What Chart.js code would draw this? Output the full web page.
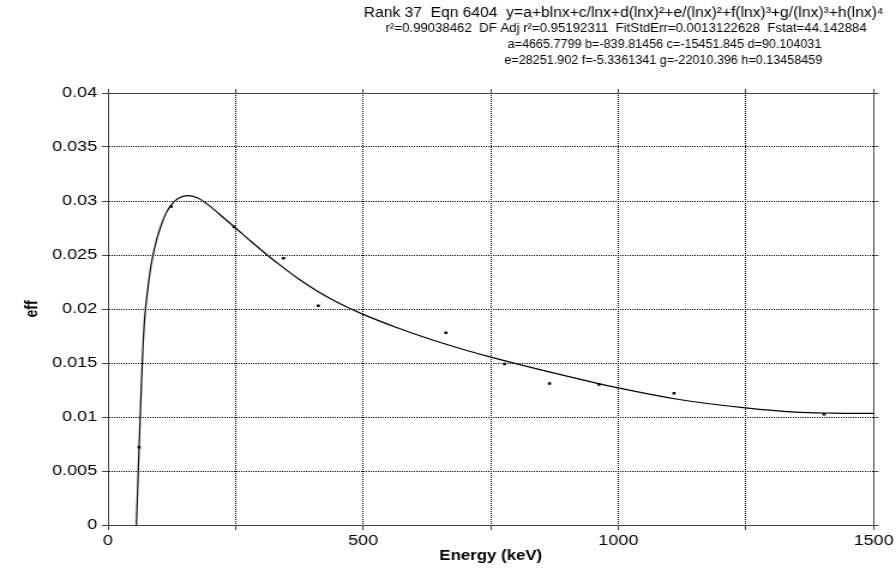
<!DOCTYPE html>
<html>
<head>
<meta charset="utf-8">
<script src="https://cdn.jsdelivr.net/npm/chart.js@4.4.1/dist/chart.umd.min.js"></script>
<style>
  html, body { margin: 0; padding: 0; background: #fff; overflow: hidden; }
  /* the reference picture is stretched sideways, so the chart is too */
  #wrap { width: 747px; height: 577px; transform: scaleX(1.19946); transform-origin: 0 0; }
</style>
</head>
<body>
<div id="wrap"><canvas id="chart"></canvas></div>
<script>
// fitted curve
const fitEnergy = [55.7, 58, 61, 63.6, 66.1, 68.7, 72, 78.4, 85, 94.7, 104.5, 114, 127, 140, 156,
  175, 192, 218, 250, 280, 309, 341, 373, 412, 451, 500, 568, 633, 698, 750, 860, 1000, 1119, 1249, 1346, 1420, 1500];
const fitEff = [0, 0.0031, 0.0072, 0.0106, 0.0137, 0.0166, 0.0192, 0.0220, 0.0242, 0.0263, 0.0278, 0.0289, 0.0298, 0.0303, 0.0305,
  0.0303, 0.0298, 0.0288, 0.0275, 0.02627, 0.02512, 0.02392, 0.0228, 0.02159, 0.02058, 0.0195, 0.01824, 0.01717, 0.01623, 0.01555,
  0.01423, 0.01269, 0.01162, 0.01084, 0.01045, 0.01036, 0.01033];

// measured points
const measEnergy = [61, 124, 247, 344, 412, 662, 777, 865, 962, 1109, 1403];
const measEff = [0.0072, 0.0295, 0.0276, 0.0247, 0.0203, 0.0178, 0.0149, 0.0131, 0.0130, 0.0122, 0.01025];

// ticks
const xTicks = [0, 250, 500, 750, 1000, 1250, 1500];
const xLabels = ['0', '', '500', '', '1000', '', '1500'];
const yTicks = [0, 0.005, 0.01, 0.015, 0.02, 0.025, 0.03, 0.035, 0.04];
const yLabels = ['0', '0.005', '0.01', '0.015', '0.02', '0.025', '0.03', '0.035', '0.04'];

const titleLines = [
  'Rank 37  Eqn 6404  y=a+blnx+c/lnx+d(lnx)\u00b2+e/(lnx)\u00b2+f(lnx)\u00b3+g/(lnx)\u00b3+h(lnx)\u2074',
  'r\u00b2=0.99038462  DF Adj r\u00b2=0.95192311  FitStdErr=0.0013122628  Fstat=44.142884',
  'a=4665.7799 b=-839.81456 c=-15451.845 d=90.104031',
  'e=28251.902 f=-5.3361341 g=-22010.396 h=0.13458459'
];

const FONT = '"Liberation Sans", Arial, sans-serif';

// one header line, squeezed sideways a little
function headerLine(ctx, text, size, squeeze, cx, cy) {
  ctx.save();
  ctx.translate(cx, cy);
  ctx.scale(squeeze, 1);
  ctx.font = size + 'px ' + FONT;
  ctx.fillText(text, 0, 0);
  ctx.restore();
}

// draws the four header lines above the plot
const headerPlugin = {
  id: 'header',
  afterDraw(chart) {
    const ctx = chart.ctx;
    ctx.save();
    ctx.fillStyle = '#000';
    ctx.textAlign = 'center';
    ctx.textBaseline = 'middle';
    headerLine(ctx, titleLines[0], 14, 0.93, 520, 13);
    headerLine(ctx, titleLines[1], 12, 0.917, 522, 29);
    headerLine(ctx, titleLines[2], 12, 0.875, 554, 45);
    headerLine(ctx, titleLines[3], 12, 0.875, 553, 61);
    ctx.restore();
  }
};

function pickTicks(list) {
  return function (scale) {
    scale.ticks = list.map(v => ({ value: v }));
  };
}

const gridStyle = { color: '#000', lineWidth: 1, tickLength: 5, tickColor: '#444' };
const borderStyle = { display: true, color: '#444', width: 1, dash: [1, 1] };

new Chart(document.getElementById('chart'), {
  data: {
    datasets: [
      {
        type: 'line',
        data: fitEnergy.map((x, i) => ({ x: x, y: fitEff[i] })),
        borderColor: '#000',
        borderWidth: 1.2,
        pointRadius: 0,
        cubicInterpolationMode: 'monotone',
        xAxisID: 'x',
        yAxisID: 'y'
      },
      {
        type: 'scatter',
        data: measEnergy.map((x, i) => ({ x: x, y: measEff[i] })),
        pointStyle: 'rect',
        pointRadius: 1.8,
        backgroundColor: '#000',
        borderColor: '#000',
        borderWidth: 0,
        xAxisID: 'x',
        yAxisID: 'y'
      }
    ]
  },
  options: {
    responsive: true,
    maintainAspectRatio: false,
    animation: false,
    events: [],
    layout: { padding: { top: 89, left: 0, right: 0, bottom: 0 } },
    plugins: { legend: { display: false }, tooltip: { enabled: false }, title: { display: false } },
    scales: {
      x: {
        type: 'linear',
        position: 'bottom',
        min: 0,
        max: 1500,
        afterBuildTicks: pickTicks(xTicks),
        afterFit(scale) { scale.height = 52; },
        grid: Object.assign({}, gridStyle),
        border: Object.assign({}, borderStyle),
        ticks: {
          color: '#000',
          padding: 2,
          maxRotation: 0,
          autoSkip: false,
          font: { family: FONT, size: 15 },
          callback: (v, i) => xLabels[i]
        },
        title: {
          display: true,
          text: 'Energy (keV)',
          color: '#000',
          padding: { top: 0, bottom: 12 },
          font: { family: FONT, size: 14, weight: 'bold' }
        }
      },
      y: {
        type: 'linear',
        position: 'left',
        min: 0,
        max: 0.04,
        afterBuildTicks: pickTicks(yTicks),
        afterFit(scale) { scale.width = 90; },
        grid: Object.assign({}, gridStyle),
        border: Object.assign({}, borderStyle),
        ticks: {
          color: '#000',
          padding: 4,
          autoSkip: false,
          font: { family: FONT, size: 15 },
          callback: (v, i) => yLabels[i]
        },
        title: {
          display: true,
          text: 'eff',
          color: '#000',
          padding: { top: 19, bottom: 0 },
          font: { family: FONT, size: 14, weight: 'bold' }
        }
      },
      xTop: {
        type: 'linear',
        position: 'top',
        min: 0,
        max: 1500,
        afterBuildTicks: pickTicks(xTicks),
        afterFit(scale) { scale.height = 4; },
        grid: Object.assign({}, gridStyle, { drawOnChartArea: false, tickLength: 4 }),
        border: Object.assign({}, borderStyle),
        ticks: { display: false }
      },
      yRight: {
        type: 'linear',
        position: 'right',
        min: 0,
        max: 0.04,
        afterBuildTicks: pickTicks(yTicks),
        afterFit(scale) { scale.width = 15; },
        grid: Object.assign({}, gridStyle, { drawOnChartArea: false, tickLength: 4 }),
        border: Object.assign({}, borderStyle),
        ticks: { display: false }
      }
    }
  },
  plugins: [headerPlugin]
});
</script>
</body>
</html>
